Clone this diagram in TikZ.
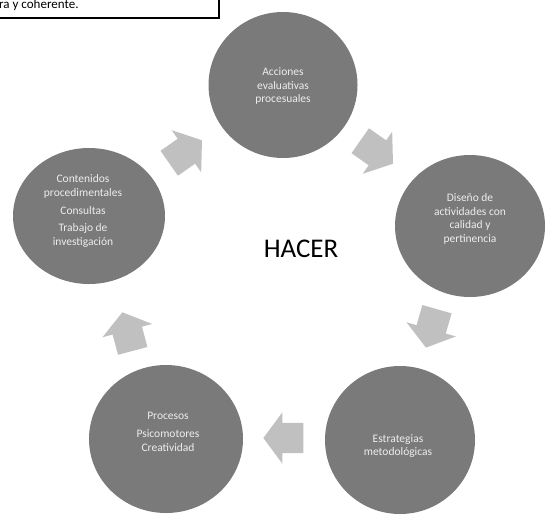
\documentclass[tikz,border=0pt]{standalone}
\usepackage{fontspec}
\setmainfont{Carlito}
\usetikzlibrary{shapes.geometric,shapes.arrows}
\definecolor{circfill}{HTML}{7A7A7A}
\definecolor{arrfill}{HTML}{C0C0C0}
\definecolor{circtext}{HTML}{EDEDED}
\begin{document}
\begin{tikzpicture}[x=1pt,y=-1pt,
  circ/.style={ellipse, draw=none, fill=circfill, inner sep=0pt},
  ctext/.style={align=center, text=circtext, font=\fontsize{11.5}{13.8}\selectfont, inner sep=0pt},
  blockarrow/.style={single arrow, draw=none, fill=arrfill, inner xsep=0pt, inner ysep=15pt,
     minimum height=40pt, single arrow head extend=10.5pt, single arrow tip angle=107, single arrow head indent=0pt},
]
\useasboundingbox (0,0) rectangle (545,520);
% top-left box (cropped)
\draw[line width=2.6pt] (-10,-10) rectangle (219,18);
\node[anchor=base west, inner sep=0pt, font=\fontsize{13}{15}\selectfont] (boxtext) at (-1,8) {ra y coherente.};
% circles
\node[circ, minimum width=149pt, minimum height=146pt] (acc) at (283,85) {};
\node[circ, minimum width=150pt, minimum height=142pt] (dis) at (470,226) {};
\node[circ, minimum width=150pt, minimum height=148pt] (est) at (400,440) {};
\node[circ, minimum width=154pt, minimum height=148pt] (pro) at (166,439) {};
\node[circ, minimum width=152pt, minimum height=136pt] (con) at (89,216) {};
% texts
\node[ctext] (tacc) at (283,86) {Acciones\\evaluativas\\procesuales};
\node[ctext] (tdis) at (470,219) {Diseño de\\actividades con\\calidad y\\pertinencia};
\node[ctext] (test) at (398,446) {Estrategias\\metodológicas};
\node[ctext] (tpro) at (168,432) {Procesos\\[4pt]Psicomotores\\Creatividad};
\node[ctext] (tcon) at (83,211) {Contenidos\\procedimentales\\[4pt]Consultas\\[4pt]Trabajo de\\investigación};
\node[font=\fontsize{27}{30}\selectfont, inner sep=0pt] (hacer) at (301,249) {HACER};
% block arrows
\node[blockarrow, rotate=35] (a1) at (181,155) {};
\node[blockarrow, rotate=-35] (a2) at (372,149) {};
\node[blockarrow, rotate=-106] (a3) at (433,323) {};
\node[blockarrow, rotate=180] (a4) at (289,438) {};
\node[blockarrow, rotate=105] (a5) at (129,337) {};
\end{tikzpicture}
\end{document}
